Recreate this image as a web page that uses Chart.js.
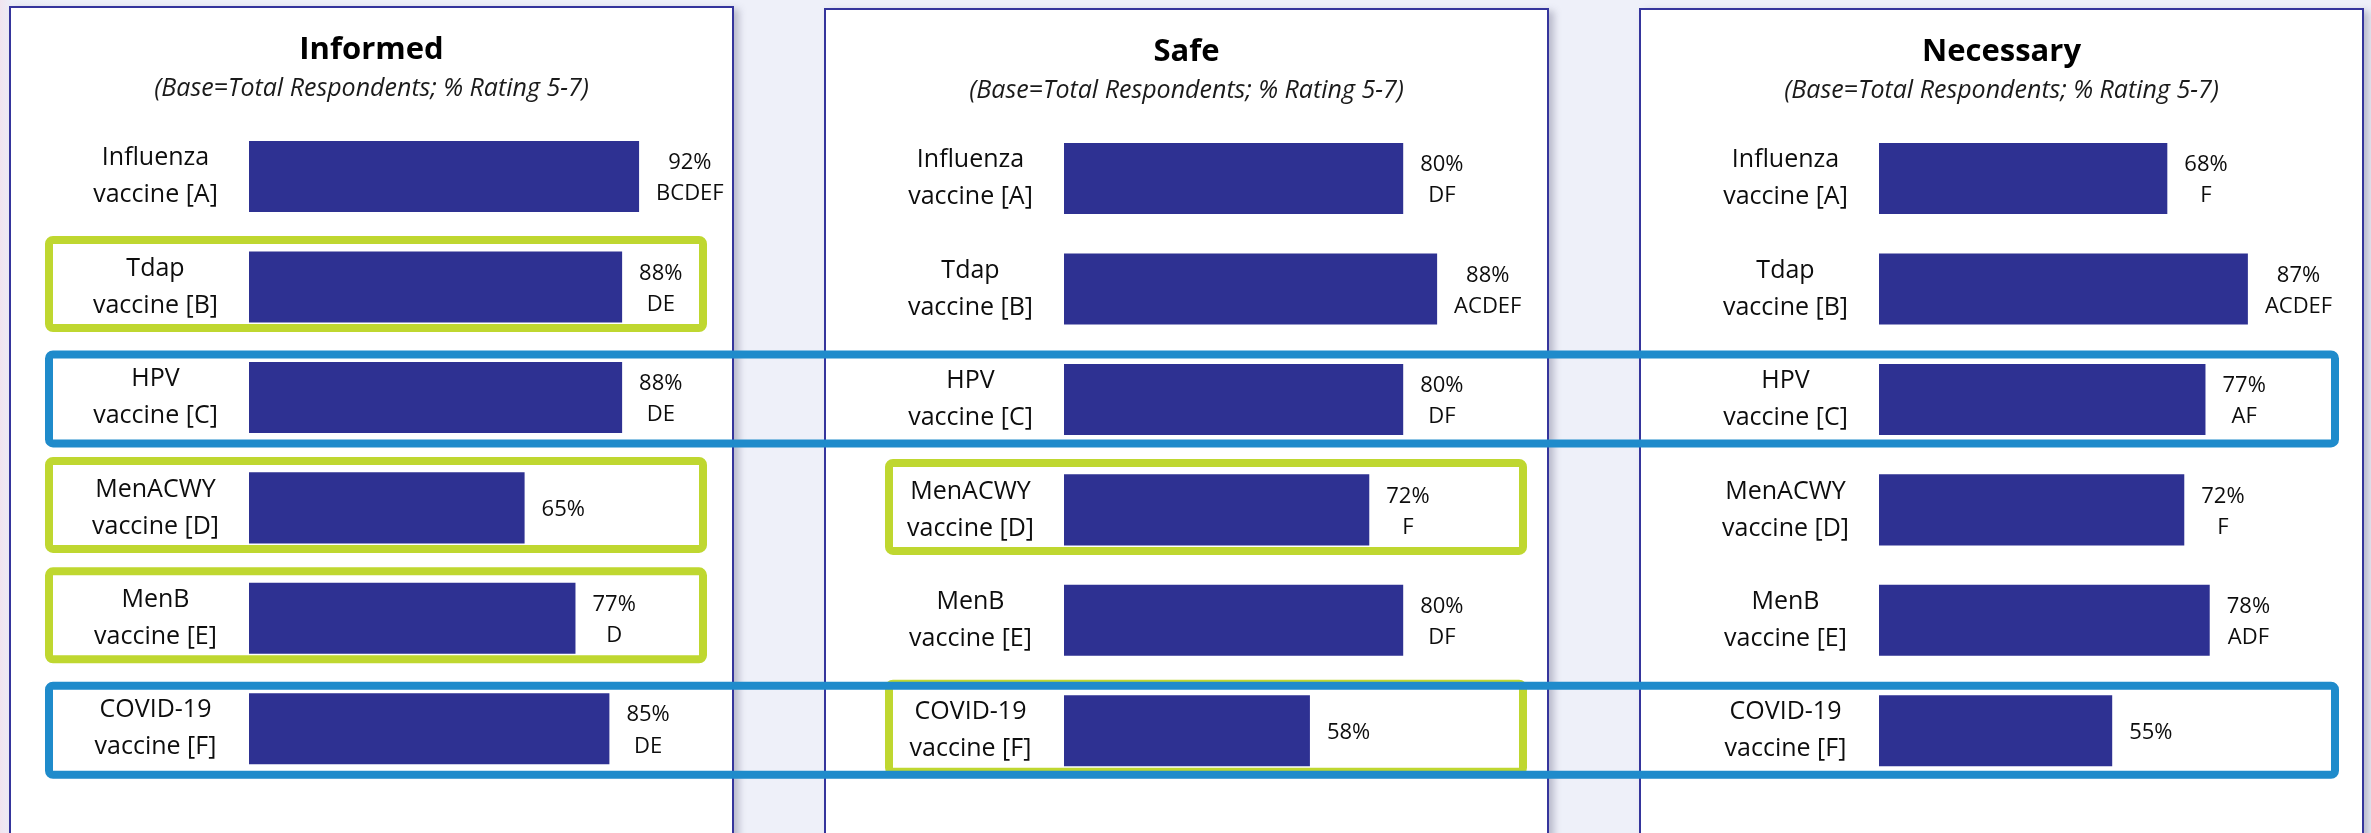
<!DOCTYPE html>
<html>
<head>
<meta charset="utf-8">
<script src="https://cdn.jsdelivr.net/npm/chart.js@4"></script>
<style>
  html, body { margin: 0; padding: 0; }
  body {
    width: 2371px; height: 833px; overflow: hidden; position: relative;
    background: linear-gradient(90deg, #f0e4ef 0px, #eceef8 12px, #eef0f9 60px, #eef0f9 100%);
  }
  .panel {
    position: absolute; background: #fff; border: 2px solid #35359c;
    box-shadow: 5px 3px 7px rgba(90, 90, 120, 0.35); overflow: hidden;
  }
  .panel canvas { position: absolute; left: 0; top: 0; }
  #overlay { position: absolute; left: 0; top: 0; pointer-events: none; }
</style>
</head>
<body>
<div class="panel" id="p0"><canvas id="c0"></canvas></div>
<div class="panel" id="p1"><canvas id="c1"></canvas></div>
<div class="panel" id="p2"><canvas id="c2"></canvas></div>
<canvas id="overlay" width="2371" height="833"></canvas>
<script>
const FONT = '"Open Sans", Lato, sans-serif';

// data
const categories = [
  ['Influenza', 'vaccine [A]'],
  ['Tdap', 'vaccine [B]'],
  ['HPV', 'vaccine [C]'],
  ['MenACWY', 'vaccine [D]'],
  ['MenB', 'vaccine [E]'],
  ['COVID-19', 'vaccine [F]']
];
const titles = ['Informed', 'Safe', 'Necessary'];
const subtitle = '(Base=Total Respondents; % Rating 5-7)';

const informed = [92, 88, 88, 65, 77, 85];
const informedSig = ['BCDEF', 'DE', 'DE', '', 'D', 'DE'];
const safe = [80, 88, 80, 72, 80, 58];
const safeSig = ['DF', 'ACDEF', 'DF', 'F', 'DF', ''];
const necessary = [68, 87, 77, 72, 78, 55];
const necessarySig = ['F', 'ACDEF', 'AF', 'F', 'ADF', ''];

const values = [informed, safe, necessary];
const sigs = [informedSig, safeSig, necessarySig];

// highlighted rows (panel index, row index)
const greenRows = [[0, 1], [0, 3], [0, 4], [1, 3], [1, 5]];
const blueRows = [2, 5];

// layout
const panelLeft = [9, 824, 1639];
const panelTop = [6, 8, 8];
const PANEL_W = 725;

const valueLabels = {
  id: 'valueLabels',
  afterDatasetsDraw(chart) {
    const ctx = chart.ctx;
    const ds = chart.data.datasets[0];
    const meta = chart.getDatasetMeta(0);
    ctx.save();
    ctx.font = '22px ' + FONT;
    ctx.fillStyle = '#0d0d0d';
    ctx.textAlign = 'center';
    ctx.textBaseline = 'middle';
    meta.data.forEach((bar, k) => {
      const lines = [ds.data[k] + '%'];
      if (ds.sig[k]) lines.push(ds.sig[k]);
      const w = Math.max(...lines.map(t => ctx.measureText(t).width));
      const cx = bar.x + 17 + w / 2;
      const lh = 31.2;
      const y0 = bar.y + 2 - (lines.length - 1) * lh / 2;
      lines.forEach((t, j) => ctx.fillText(t, cx, y0 + j * lh));
    });
    ctx.restore();
  }
};

const charts = [0, 1, 2].map(i => {
  const panel = document.getElementById('p' + i);
  panel.style.left = panelLeft[i] + 'px';
  panel.style.top = panelTop[i] + 'px';
  panel.style.width = (PANEL_W - 4) + 'px';
  panel.style.height = (845 - panelTop[i]) + 'px';
  const canvas = document.getElementById('c' + i);
  canvas.width = PANEL_W - 4;
  canvas.height = 860;
  return new Chart(canvas, {
    type: 'bar',
    data: {
      labels: categories,
      datasets: [{
        data: values[i],
        sig: sigs[i],
        backgroundColor: '#2e3192',
        borderWidth: 0,
        barPercentage: 1,
        categoryPercentage: 0.643
      }]
    },
    options: {
      indexAxis: 'y',
      responsive: false,
      animation: false,
      events: [],
      // symmetric side padding keeps the title centred on the panel
      layout: { padding: { top: 0, right: 59, bottom: 84, left: 59 } },
      plugins: {
        legend: { display: false },
        tooltip: { enabled: false },
        title: {
          display: true, text: titles[i], color: '#000',
          font: { family: FONT, size: 31, weight: 'bold', lineHeight: 1.2 },
          padding: { top: 23.7, bottom: 0 }
        },
        subtitle: {
          display: true, text: subtitle, color: '#1a1a1a',
          font: { family: FONT, size: 25, style: 'italic', lineHeight: 1.2 },
          padding: { top: 4.6, bottom: 17.8 }
        }
      },
      scales: {
        x: { display: false, min: 0, max: 100 },
        y: {
          grid: { display: false, drawTicks: false },
          border: { display: false },
          ticks: {
            crossAlign: 'center', padding: 30, color: '#0d0d0d',
            font: { family: FONT, size: 25, lineHeight: 1.48 }
          },
          afterFit: s => { s.width = 179; }
        }
      }
    },
    plugins: [valueLabels]
  });
});

// highlight boxes on top of the panels
const ov = document.getElementById('overlay').getContext('2d');
function rowCenter(p, row) {
  return panelTop[p] + 2 + charts[p].scales.y.getPixelForValue(row);
}
function drawBox(x1, x2, top, bottom, color) {
  ov.strokeStyle = color;
  ov.lineWidth = 8;
  ov.beginPath();
  ov.roundRect(x1 + 4, top + 4, x2 - x1 - 8, bottom - top - 8, 4);
  ov.stroke();
}
greenRows.forEach(([p, row]) => {
  const yc = rowCenter(p, row);
  const x1 = panelLeft[p] + (p === 0 ? 36 : 61);
  const x2 = panelLeft[p] + (p === 0 ? 698 : 703);
  drawBox(x1, x2, yc - 51, yc + 45, '#bfd730');
});
blueRows.forEach(row => {
  const yc = rowCenter(0, row);
  drawBox(panelLeft[0] + 36, panelLeft[2] + 700, yc - 47, yc + 50, '#1f8bcb');
});
</script>
</body>
</html>
